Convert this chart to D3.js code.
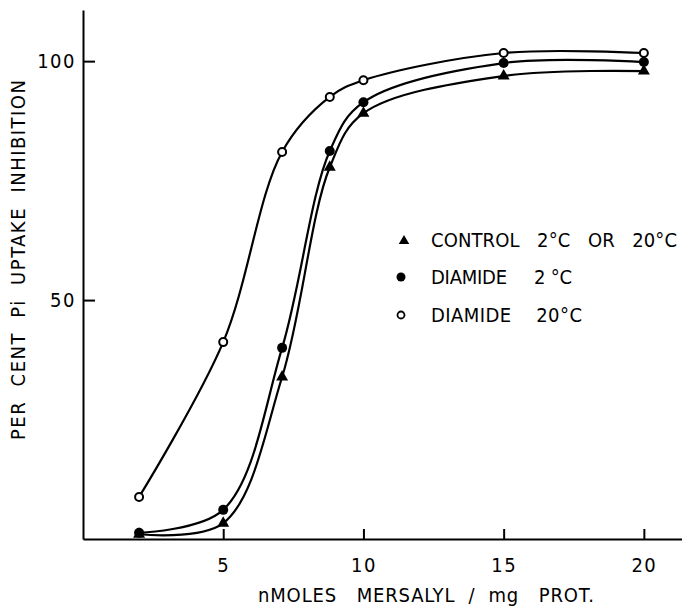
<!DOCTYPE html>
<html>
<head>
<meta charset="utf-8">
<script src="https://cdn.jsdelivr.net/npm/d3@7"></script>
<style>
  body { margin: 0; background: #fff; }
  text { font-family: "DejaVu Sans Condensed", "DejaVu Sans", sans-serif; font-stretch: condensed; fill: #000; white-space: pre; }
</style>
</head>
<body>
<script>
// values
const dose = [2, 5, 7.1, 8.8, 10, 15, 20];
const control = [1.0, 3.3, 33.9, 77.8, 89.1, 96.9, 97.9];
const diamide2 = [1.3, 6.1, 40, 81.2, 91.4, 99.6, 99.8];
const diamide20 = [8.8, 41.2, 81, 92.5, 96, 101.7, 101.7];

const xTicks = [5, 10, 15, 20];
const yTicks = [50, 100];

const legendLabels = ["CONTROL   2\u00b0C   OR   20\u00b0C", "DIAMIDE     2 \u00b0C", "DIAMIDE    20\u00b0C"];
const xTitle = "nMOLES   MERSALYL  /  mg   PROT.";
const yTitle = "PER  CENT  Pi  UPTAKE  INHIBITION";

let margin = {top: 10, right: 0, bottom: 68, left: 83};
let width = 682 - margin.left - margin.right;
let height = 607 - margin.top - margin.bottom;

let svg = d3.select("body").append("svg")
    .attr("width", 682)
    .attr("height", 607);

let g = svg.append("g")
    .attr("transform", `translate(${margin.left}, ${margin.top})`);

let x = d3.scaleLinear()
    .domain([0, 21.36])
    .range([0, width]);

let y = d3.scaleLinear()
    .domain([0, 110.7])
    .range([height, 0]);

// axes, ticks point inwards
g.append("g")
    .attr("transform", `translate(0,${height})`)
    .call(d3.axisBottom(x).tickValues(xTicks).tickFormat(d3.format("d"))
        .tickSizeInner(-10).tickSizeOuter(0).tickPadding(19));

g.append("g")
    .call(d3.axisLeft(y).tickValues(yTicks).tickFormat(d3.format("d"))
        .tickSizeInner(-12).tickSizeOuter(0).tickPadding(7));

g.selectAll(".domain, .tick line")
    .attr("stroke", "#000")
    .attr("stroke-width", 2);

g.selectAll(".tick text")
    .attr("font-size", 20)
    .style("font-family", "\"DejaVu Sans Condensed\", \"DejaVu Sans\", sans-serif")
    .attr("letter-spacing", 1.5);

svg.append("text")
    .attr("x", 258)
    .attr("y", 602)
    .attr("font-size", 20)
    .attr("textLength", 336)
    .attr("lengthAdjust", "spacing")
    .text(xTitle);

svg.append("text")
    .attr("transform", "translate(25, 440) rotate(-90)")
    .attr("font-size", 20)
    .attr("textLength", 360)
    .attr("lengthAdjust", "spacing")
    .text(yTitle);

// curves
const series = [
    {name: "control", values: control},
    {name: "diamide2", values: diamide2},
    {name: "diamide20", values: diamide20}
];

let line = d3.line()
    .x((d, i) => x(dose[i]))
    .y(d => y(d))
    .curve(d3.curveCatmullRom.alpha(0.5));

g.selectAll("path.curve")
    .data(series)
    .join("path")
    .attr("class", "curve")
    .attr("d", d => line(d.values))
    .attr("fill", "none")
    .attr("stroke", "#000")
    .attr("stroke-width", 2.2);

let tri = d3.symbol().type(d3.symbolTriangle).size(62);

g.selectAll("path.tri")
    .data(control)
    .join("path")
    .attr("class", "tri")
    .attr("d", tri)
    .attr("transform", (d, i) => `translate(${x(dose[i])},${y(d)})`)
    .attr("fill", "#000");

g.selectAll("circle.filled")
    .data(diamide2)
    .join("circle")
    .attr("class", "filled")
    .attr("cx", (d, i) => x(dose[i]))
    .attr("cy", d => y(d))
    .attr("r", 5)
    .attr("fill", "#000");

g.selectAll("circle.open")
    .data(diamide20)
    .join("circle")
    .attr("class", "open")
    .attr("cx", (d, i) => x(dose[i]))
    .attr("cy", d => y(d))
    .attr("r", 4)
    .attr("fill", "#fff")
    .attr("stroke", "#000")
    .attr("stroke-width", 2);

// legend
let legend = svg.append("g");
let rowY = [240, 277, 315];
let rowLength = [246, 141, 151];

legend.append("path")
    .attr("d", d3.symbol().type(d3.symbolTriangle).size(48))
    .attr("transform", `translate(404,${rowY[0] + 1})`)
    .attr("fill", "#000");
legend.append("circle")
    .attr("cx", 401).attr("cy", rowY[1]).attr("r", 4.5)
    .attr("fill", "#000");
legend.append("circle")
    .attr("cx", 401).attr("cy", rowY[2]).attr("r", 3.5)
    .attr("fill", "#fff").attr("stroke", "#000").attr("stroke-width", 1.8);

legend.selectAll("text")
    .data(legendLabels)
    .join("text")
    .attr("x", 431)
    .attr("y", (d, i) => rowY[i] + 7)
    .attr("font-size", 20)
    .attr("textLength", (d, i) => rowLength[i])
    .attr("lengthAdjust", "spacing")
    .text(d => d);
</script>
</body>
</html>
